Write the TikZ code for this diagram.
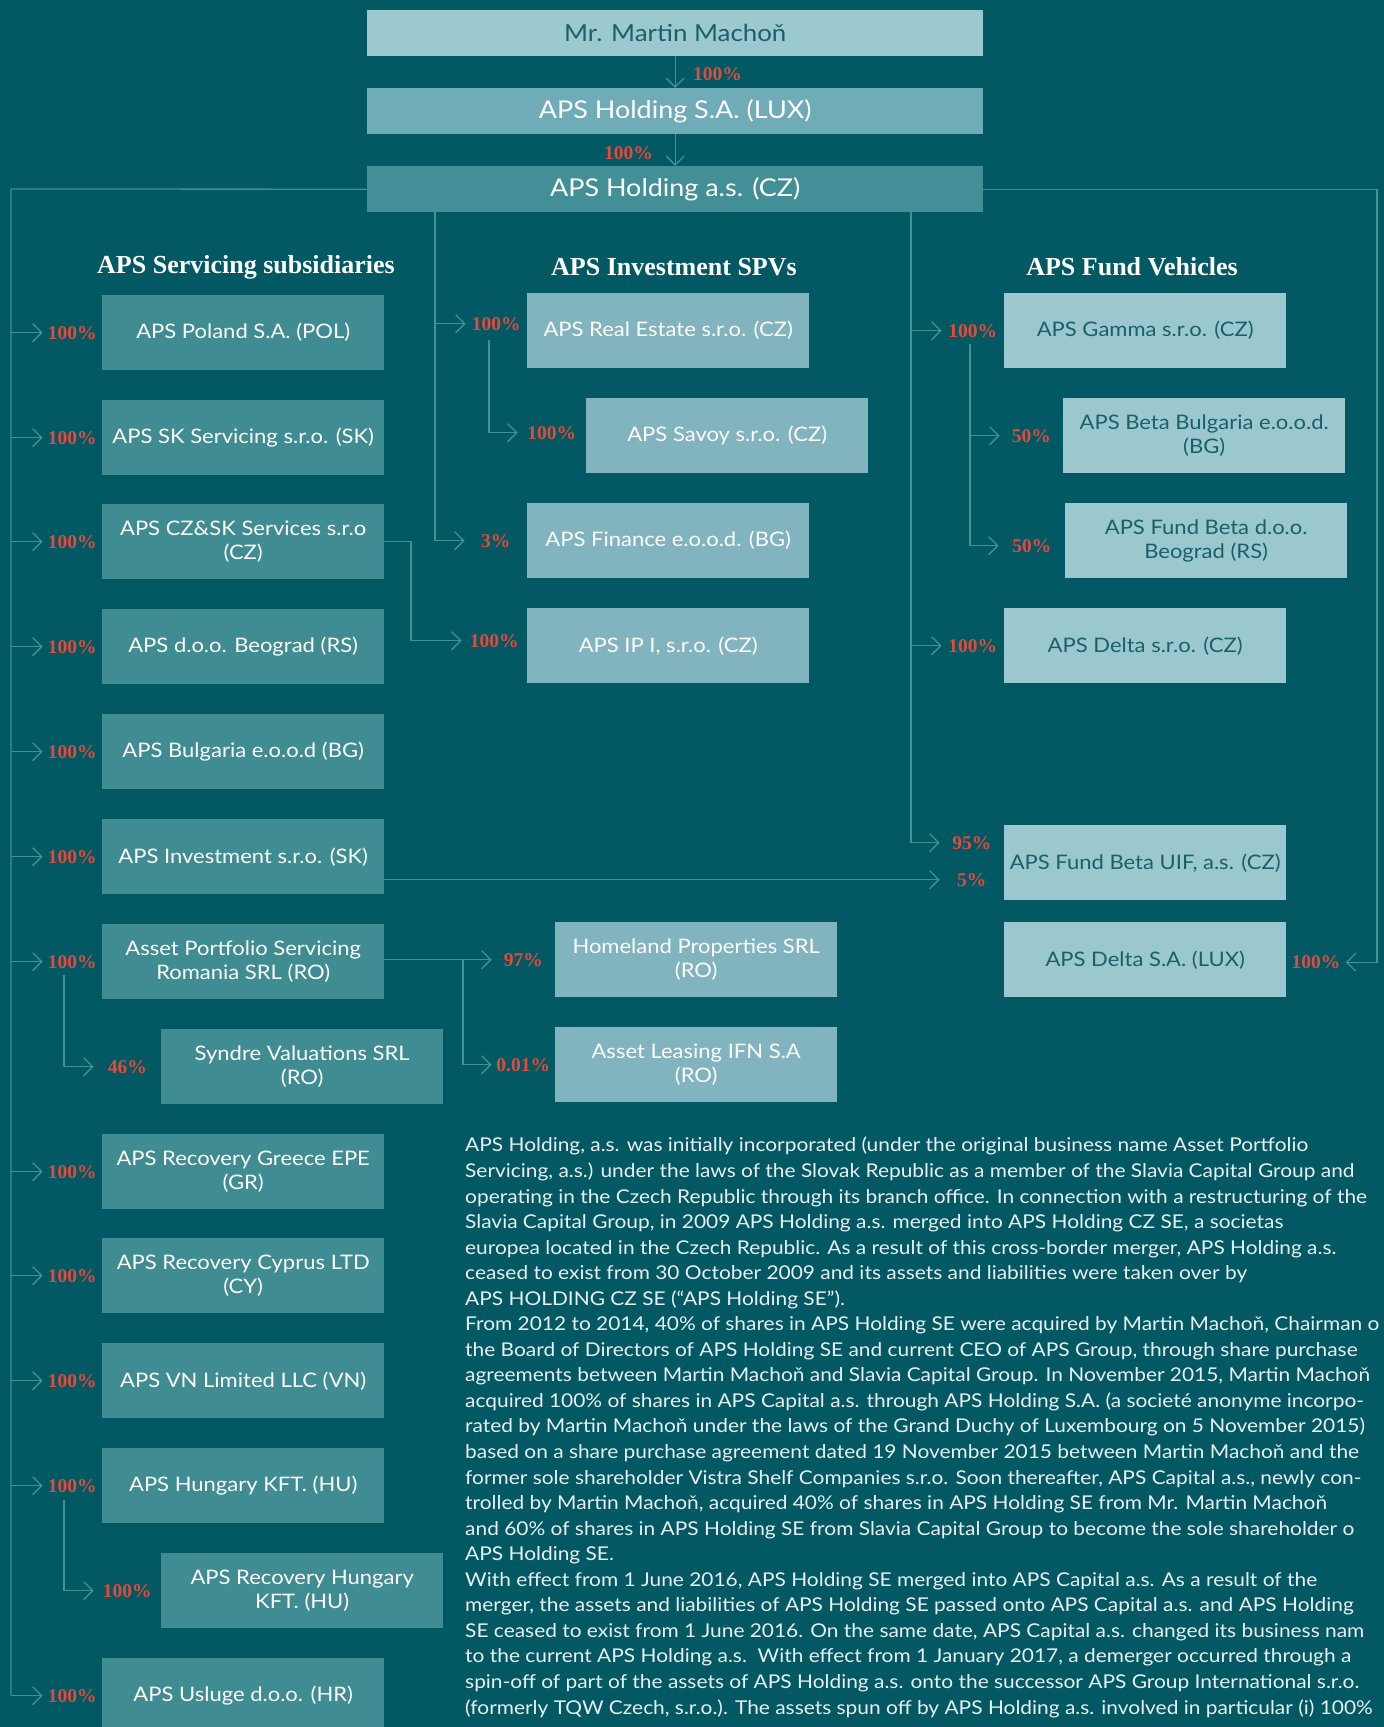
\documentclass[tikz,border=0pt]{standalone}
\usepackage{fontspec}
\setmainfont{Lato}[FakeStretch=1.1]
\newfontfamily\pctfont{Liberation Serif}
\usetikzlibrary{arrows.meta}
\definecolor{bg}{RGB}{2,88,99}
\definecolor{topc}{RGB}{156,201,208}
\definecolor{luxc}{RGB}{111,172,184}
\definecolor{czc}{RGB}{67,143,151}
\definecolor{servc}{RGB}{64,140,147}
\definecolor{invc}{RGB}{130,180,192}
\definecolor{fundc}{RGB}{155,200,207}
\definecolor{linec}{RGB}{66,144,152}
\definecolor{pctc}{RGB}{228,74,60}
\definecolor{darkt}{RGB}{26,96,106}
\definecolor{parac}{RGB}{232,240,242}
\begin{document}
\begin{tikzpicture}[x=1pt,y=-1pt,
  box/.style={rectangle, inner sep=0pt, minimum width=282pt, minimum height=75pt, anchor=north west, align=center, font=\fontsize{20}{24}\selectfont},
  serv/.style={box, fill=servc, text=white},
  inv/.style={box, fill=invc, text=white},
  fund/.style={box, fill=fundc, text=darkt},
  topbox/.style={rectangle, inner sep=0pt, minimum width=616pt, minimum height=46pt, anchor=north west, font=\fontsize{24.5}{30}\selectfont},
  pct/.style={inner sep=0pt, minimum height=20pt, text=pctc, font=\pctfont\bfseries\fontsize{19.5}{22}\selectfont, align=center},
  conn/.style={draw=linec, line width=1.3pt},
  arr/.style={conn, -{Straight Barb[length=9pt,width=18pt]}},
  head/.style={text=white, inner sep=0pt, font=\pctfont\bfseries\fontsize{26}{30}\selectfont},
]
\useasboundingbox (0,0) rectangle (1384,1727);
\clip (0,0) rectangle (1384,1727);
\fill[bg] (0,0) rectangle (1384,1727);

% top chain
\node[topbox, fill=topc, text=darkt, font=\fontsize{23.5}{28}\selectfont] (mm) at (367,10) {Mr. Martin Machoň};
\node[topbox, fill=luxc, text=white] (lux) at (367,88) {APS Holding S.A. (LUX)};
\node[topbox, fill=czc, text=white] (cz) at (367,166) {APS Holding a.s. (CZ)};
\draw[arr] (mm.south) -- (lux.north);
\draw[arr] (lux.south) -- (cz.north);
\node[pct, anchor=west] (pt1) at (693,74) {100\%};
\node[pct, anchor=east] (pt2) at (653,153) {100\%};

% headings
\node[head] (h1) at (246,267) {APS Servicing subsidiaries};
\node[head] (h2) at (674,267) {APS Investment SPVs};
\node[head] (h3) at (1132,267) {APS Fund Vehicles};

% servicing column
\node[serv] (b1) at (102,295) {APS Poland S.A. (POL)};
\node[serv] (b2) at (102,400) {APS SK Servicing s.r.o. (SK)};
\node[serv] (b3) at (102,504) {APS CZ\&SK Services s.r.o\\(CZ)};
\node[serv] (b4) at (102,609) {APS d.o.o. Beograd (RS)};
\node[serv] (b5) at (102,714) {APS Bulgaria e.o.o.d (BG)};
\node[serv] (b6) at (102,819) {APS Investment s.r.o. (SK)};
\node[serv] (b7) at (102,924) {Asset Portfolio Servicing\\Romania SRL (RO)};
\node[serv] (sy) at (161,1029) {Syndre Valuations SRL\\(RO)};
\node[serv] (b8) at (102,1134) {APS Recovery Greece EPE\\(GR)};
\node[serv] (b9) at (102,1238) {APS Recovery Cyprus LTD\\(CY)};
\node[serv] (b10) at (102,1343) {APS VN Limited LLC (VN)};
\node[serv] (b11) at (102,1448) {APS Hungary KFT. (HU)};
\node[serv] (rh) at (161,1553) {APS Recovery Hungary\\KFT. (HU)};
\node[serv] (b12) at (102,1658) {APS Usluge d.o.o. (HR)};
\foreach \b in {b1,b2,b3,b4,b5,b6,b7,b8,b9,b10,b11,b12}
  \node[pct, minimum width=59pt, anchor=east] (p\b) at (\b.west) {100\%};
\node[pct, minimum width=67pt, anchor=east] (psy) at (sy.west) {46\%};
\node[pct, minimum width=67pt, anchor=east] (prh) at (rh.west) {100\%};

% investment column
\node[inv] (re) at (527,293) {APS Real Estate s.r.o. (CZ)};
\node[inv] (sv) at (586,398) {APS Savoy s.r.o. (CZ)};
\node[inv] (fi) at (527,503) {APS Finance e.o.o.d. (BG)};
\node[inv] (ip) at (527,608) {APS IP I, s.r.o. (CZ)};
\node[pct, minimum width=61pt, anchor=east] (pre) at ([yshift=7pt]re.west) {100\%};
\node[pct, minimum width=68pt, anchor=east] (psv) at ([yshift=3pt]sv.west) {100\%};
\node[pct, minimum width=62pt, anchor=east] (pfi) at (fi.west) {3\%};
\node[pct, minimum width=65pt, anchor=east] (pip) at ([yshift=5pt]ip.west) {100\%};

\node[inv] (hl) at (555,922) {Homeland Properties SRL\\(RO)};
\node[inv] (al) at (555,1027) {Asset Leasing IFN S.A\\(RO)};
\node[pct, minimum width=63pt, anchor=east] (phl) at (hl.west) {97\%};
\node[pct, minimum width=63pt, anchor=east] (pal) at (al.west) {0.01\%};

% fund column
\node[fund] (ga) at (1004,293) {APS Gamma s.r.o. (CZ)};
\node[fund] (bb) at (1063,398) {APS Beta Bulgaria e.o.o.d.\\(BG)};
\node[fund] (fb) at (1065,503) {APS Fund Beta d.o.o.\\Beograd (RS)};
\node[fund] (de) at (1004,608) {APS Delta s.r.o. (CZ)};
\node[fund] (uif) at (1004,825) {APS Fund Beta UIF, a.s. (CZ)};
\node[fund] (dl) at (1004,922) {APS Delta S.A. (LUX)};
\node[pct, minimum width=62pt, anchor=east] (pga) at (ga.west) {100\%};
\node[pct, minimum width=63pt, anchor=east] (pbb) at (bb.west) {50\%};
\node[pct, minimum width=66pt, anchor=east] (pfb) at ([yshift=-5pt]fb.west) {50\%};
\node[pct, minimum width=62pt, anchor=east] (pde) at (de.west) {100\%};
\node[pct, minimum width=64pt, anchor=east] (pu1) at ([yshift=20pt]uif.west) {95\%};
\node[pct, minimum width=64pt, anchor=east] (pu2) at ([yshift=-17pt]uif.west) {5\%};
\node[pct, minimum width=59pt, anchor=west] (pdl) at ([yshift=-2.5pt]dl.east) {100\%};

% trunk coordinates
\coordinate (tl) at (11,189);
\coordinate (ti) at (435,0);
\coordinate (tf) at (911,0);
\coordinate (tr) at (1377,0);
\coordinate (c0) at (411,0);
\coordinate (r0) at (463,0);
\coordinate (s0) at (489,340);
\coordinate (g0) at (970,344);
\coordinate (y0) at (64,975);
\coordinate (h0) at (64,1500);

% left trunk
\draw[conn] (cz.west) -- (tl) -- (tl |- pb12.west);
\foreach \b in {b1,b2,b3,b4,b5,b6,b7,b8,b9,b10,b11,b12}
  \draw[arr] (tl |- p\b.west) -- (p\b.west);
\draw[arr] (y0) |- (psy.west);
\draw[arr] (h0) |- (prh.west);

% investment trunk
\draw[arr] (cz.south -| ti) |- (pfi.west);
\draw[arr] (ti |- pre.west) -- (pre.west);
\draw[arr] (s0) |- (psv.west);
\draw[arr] (b3.east) -| (c0 |- pip.west) -- (pip.west);
\draw[arr] (b7.east |- phl.west) -- (phl.west);
\draw[arr] (r0 |- phl.west) |- (pal.west);

% fund trunk
\draw[arr] (cz.south -| tf) |- (pu1.west);
\draw[arr] (tf |- pga.west) -- (pga.west);
\draw[arr] (tf |- pde.west) -- (pde.west);
\draw[arr] (g0) |- (pfb.west);
\draw[arr] (g0 |- pbb.west) -- (pbb.west);
\draw[arr] (b6.east |- pu2.west) -- (pu2.west);

% right trunk
\draw[arr] (cz.east) -| (tr |- pdl.east) -- (pdl.east);

% paragraph (anchored at the baseline of its last line)
\node[anchor=base west, inner sep=0pt, align=left, text=parac, font=\fontsize{19}{25.55}\selectfont] (para) at (465,1714) {%
APS Holding, a.s. was initially incorporated (under the original business name Asset Portfolio\\
Servicing, a.s.) under the laws of the Slovak Republic as a member of the Slavia Capital Group and\\
operating in the Czech Republic through its branch office. In connection with a restructuring of the\\
Slavia Capital Group, in 2009 APS Holding a.s. merged into APS Holding CZ SE, a societas\\
europea located in the Czech Republic. As a result of this cross-border merger, APS Holding a.s.\\
ceased to exist from 30 October 2009 and its assets and liabilities were taken over by\\
APS HOLDING CZ SE (“APS Holding SE”).\\
From 2012 to 2014, 40\% of shares in APS Holding SE were acquired by Martin Machoň, Chairman o\\
the Board of Directors of APS Holding SE and current CEO of APS Group, through share purchase\\
agreements between Martin Machoň and Slavia Capital Group. In November 2015, Martin Machoň\\
acquired 100\% of shares in APS Capital a.s. through APS Holding S.A. (a societé anonyme incorpo-\\
rated by Martin Machoň under the laws of the Grand Duchy of Luxembourg on 5 November 2015)\\
based on a share purchase agreement dated 19 November 2015 between Martin Machoň and the\\
former sole shareholder Vistra Shelf Companies s.r.o. Soon thereafter, APS Capital a.s., newly con-\\
trolled by Martin Machoň, acquired 40\% of shares in APS Holding SE from Mr. Martin Machoň\\
and 60\% of shares in APS Holding SE from Slavia Capital Group to become the sole shareholder o\\
APS Holding SE.\\
With effect from 1 June 2016, APS Holding SE merged into APS Capital a.s. As a result of the\\
merger, the assets and liabilities of APS Holding SE passed onto APS Capital a.s. and APS Holding\\
SE ceased to exist from 1 June 2016. On the same date, APS Capital a.s. changed its business nam\\
to the current APS Holding a.s.\ \ With effect from 1 January 2017, a demerger occurred through a\\
spin-off of part of the assets of APS Holding a.s. onto the successor APS Group International s.r.o.\\
(formerly TQW Czech, s.r.o.). The assets spun off by APS Holding a.s. involved in particular (i) 100\%};
\end{tikzpicture}
\end{document}
